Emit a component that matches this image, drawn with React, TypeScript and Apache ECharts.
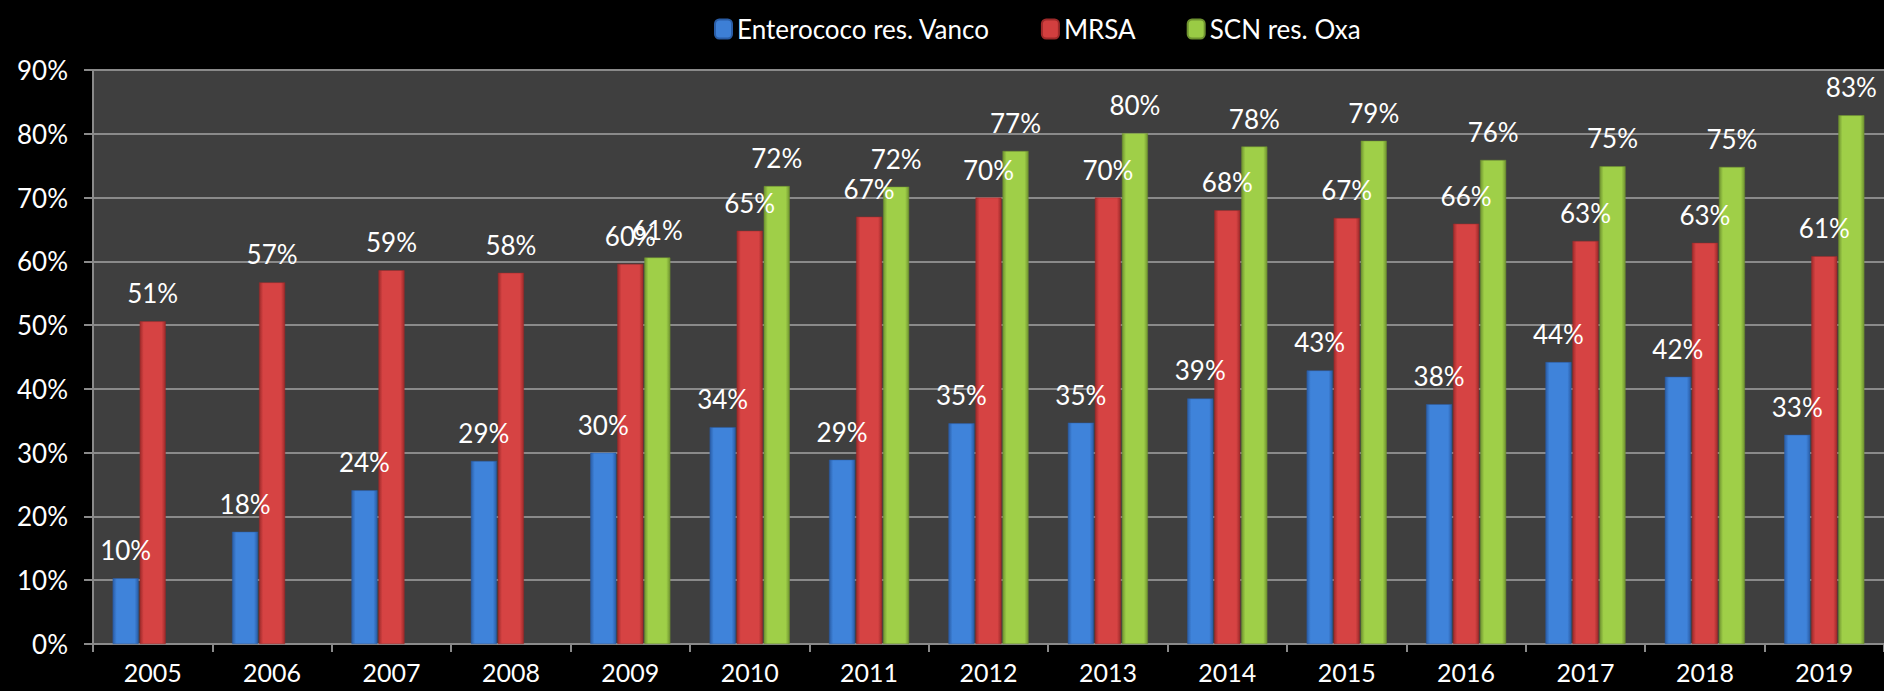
import React, { useEffect, useRef } from "react";
import * as echarts from "echarts";

const years = ["2005", "2006", "2007", "2008", "2009", "2010", "2011", "2012", "2013", "2014", "2015", "2016", "2017", "2018", "2019"];
const enterococo = [10.3, 17.6, 24.1, 28.7, 30.0, 34.0, 28.9, 34.6, 34.7, 38.5, 42.9, 37.6, 44.2, 41.9, 32.8];
const mrsa = [50.6, 56.7, 58.6, 58.2, 59.6, 64.8, 67.0, 70.0, 70.0, 68.0, 66.8, 65.9, 63.2, 62.9, 60.8];
const scn = [null, null, null, null, 60.6, 71.8, 71.7, 77.3, 80.1, 78.0, 78.9, 75.9, 74.9, 74.8, 82.9];
const yTicks = { min: 0, max: 90, interval: 10 };

const FONT = "Lato";

function barGradient(dark: string, light: string) {
  return new echarts.graphic.LinearGradient(0, 0, 1, 0, [
    { offset: 0, color: dark },
    { offset: 0.15, color: light },
    { offset: 0.5, color: light },
    { offset: 0.85, color: light },
    { offset: 1, color: dark },
  ]);
}

export default function App() {
  const ref = useRef<HTMLDivElement>(null);
  useEffect(() => {
    if (!ref.current) return;
    const chart = echarts.init(ref.current, null, { renderer: "svg" });
    const label = {
      show: true,
      position: "top" as const,
      distance: 15,
      color: "#ffffff",
      fontSize: 26,
      fontFamily: FONT,
      formatter: (p: any) => Math.round(p.value) + "%",
    };
    const mk = (name: string, data: (number | null)[], dark: string, light: string) => ({
      name,
      type: "bar" as const,
      data,
      barWidth: 26,
      barGap: "4%",
      itemStyle: { color: barGradient(dark, light), borderColor: dark, borderWidth: 0.5 },
      label,
    });
    chart.setOption({
      animation: false,
      backgroundColor: "#000000",
      textStyle: { fontFamily: FONT },
      color: ["#3d7fd6", "#d23f3f", "#9acb45"],
      legend: {
        top: 11,
        left: 709,
        itemWidth: 17,
        itemHeight: 19,
        itemGap: 51,
        textStyle: { color: "#ffffff", fontSize: 26, fontFamily: FONT },
        data: [
          { name: "Enterococo res. Vanco", itemStyle: { color: "#3d7fd6" } },
          { name: "MRSA", itemStyle: { color: "#d23f3f" } },
          { name: "SCN res. Oxa", itemStyle: { color: "#9acb45" } },
        ],
      },
      grid: { left: 93, top: 70, width: 1795, height: 574, backgroundColor: "#3f3f3f", show: true, borderWidth: 0 },
      xAxis: {
        type: "category",
        data: years,
        boundaryGap: true,
        axisLine: { show: true, lineStyle: { color: "#8a8a8a", width: 2 } },
        axisTick: { show: true, length: 8, lineStyle: { color: "#8a8a8a", width: 2 } },
        axisLabel: { color: "#ffffff", fontSize: 25, lineHeight: 22, fontFamily: FONT, margin: 17 },
      },
      yAxis: {
        type: "value",
        min: yTicks.min,
        max: yTicks.max,
        interval: yTicks.interval,
        axisLine: { show: true, lineStyle: { color: "#8a8a8a", width: 2 } },
        axisTick: { show: true, length: 9, lineStyle: { color: "#8a8a8a", width: 2 } },
        splitLine: { show: true, lineStyle: { color: "#8a8a8a", width: 2 } },
        axisLabel: { color: "#ffffff", fontSize: 26, fontFamily: FONT, margin: 25, formatter: "{value}%" },
      },
      series: [
        mk("Enterococo res. Vanco", enterococo, "#2a5da6", "#3f83da"),
        mk("MRSA", mrsa, "#9e2a2a", "#d64343"),
        mk("SCN res. Oxa", scn, "#6f9330", "#9fcf48"),
      ],
    });
    return () => chart.dispose();
  }, []);
  return <div ref={ref} style={{ position: "fixed", left: 0, top: 0, width: 1884, height: 691 }} />;
}
